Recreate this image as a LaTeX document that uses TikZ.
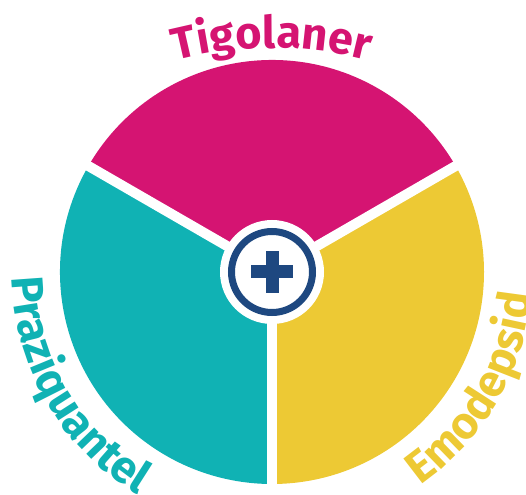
\documentclass[tikz,border=0pt]{standalone}
\usepackage{fontspec}
\setsansfont{Fira Sans}
\usetikzlibrary{decorations.text}

\definecolor{tigo}{RGB}{213,20,114}
\definecolor{prazi}{RGB}{16,178,180}
\definecolor{emod}{RGB}{237,201,52}
\definecolor{plusblue}{RGB}{30,72,128}

\newcommand{\arcfont}{\sffamily\bfseries\fontsize{45}{45}\selectfont}

\tikzset{
  gap/.style={white, line width=10pt},
  arc text/.style 2 args={decorate, decoration={text along path, text align=center,
    text color=#1, text={|\arcfont|#2}}}
}

\begin{document}
\begin{tikzpicture}[x=1pt,y=1pt]
\useasboundingbox (-272,-222) rectangle (254,272);

% Sectors
\fill[tigo] (0,0) -- (150:212) arc (150:30:212) -- cycle;
\fill[prazi] (0,0) -- (150:212) arc (150:270:212) -- cycle;
\fill[emod] (0,0) -- (270:212) arc (270:390:212) -- cycle;

% White gaps
\draw[gap] (0,0) -- (150:220);
\draw[gap] (0,0) -- (30:220);
\draw[gap] (0,0) -- (270:220);

% Centre with plus
\fill[white] (0,0) circle (52);
\draw[plusblue, line width=7pt] (0,0) circle (40.5);
\fill[plusblue] (-21,-6.5) rectangle (21,6.5);
\fill[plusblue] (-6.5,-21) rectangle (6.5,21);

% Labels (top one on a flatter arc)
\path[arc text={tigo}{Tigolaner}] (0,-156) ++(120:380) arc (120:60:380);
\path[arc text={prazi}{Praziquantel}] (150:260) arc (150:270:260);
\path[arc text={emod}{Emodepsid}] (270:260) arc (270:390:260);

\end{tikzpicture}
\end{document}
